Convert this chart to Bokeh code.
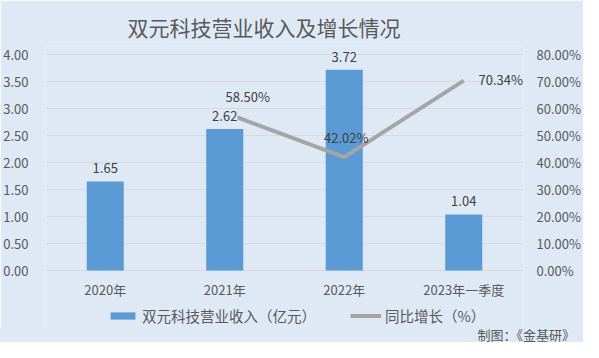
from bokeh.plotting import figure
from bokeh.layouts import column
from bokeh.models import (ColumnDataSource, Range1d, FactorRange, LinearAxis, FixedTicker,
                          NumeralTickFormatter, LabelSet, Legend, LegendItem, Title, Div)
from bokeh.core.properties import value
from bokeh.embed import file_html
from bokeh.resources import INLINE

categories = ["2020年", "2021年", "2022年", "2023年一季度"]
revenue = [1.65, 2.62, 3.72, 1.04]
growth_cats = ["2021年", "2022年", "2023年一季度"]
growth = [0.5850, 0.4202, 0.7034]
left_ticks = [0, 0.5, 1.0, 1.5, 2.0, 2.5, 3.0, 3.5, 4.0]
right_ticks = [0, 0.1, 0.2, 0.3, 0.4, 0.5, 0.6, 0.7, 0.8]
title_text = "双元科技营业收入及增长情况"
bar_name = "双元科技营业收入（亿元）"
line_name = "同比增长（%）"
credit = "制图：《金基研》"

BG = "#DEE9F5"
FONT = "Noto Sans CJK SC"
AX = "#595959"
LBL = "#404040"
BAR = "#5B9BD5"
LINE = "#A5A5A5"

# frame extends below zero to host the legend area
p = figure(width=583, height=328, x_range=FactorRange(*categories, range_padding=0),
           y_range=Range1d(-1.074, 4.15), output_backend="svg", toolbar_location=None,
           min_border_left=45, min_border_right=53, min_border_top=46, min_border_bottom=0,
           background_fill_color=BG, border_fill_color=BG, outline_line_color=None)
p.extra_y_ranges = {"pct": Range1d(-0.2148, 0.83)}

p.title = Title(text=title_text, align="left", offset=82, standoff=9,
                text_font=FONT, text_font_size="21px", text_font_style="normal", text_color=AX)

src = ColumnDataSource(dict(cat=categories, rev=revenue, lab=[f"{v:.2f}" for v in revenue]))
bars = p.vbar(x="cat", top="rev", bottom=0, width=0.31, source=src, fill_color=BAR, line_color=None)

lsrc = ColumnDataSource(dict(cat=growth_cats, g=growth))
line = p.line(x="cat", y="g", source=lsrc, y_range_name="pct", line_color=LINE, line_width=4)

# axes
p.xaxis.fixed_location = 0
p.xaxis.axis_line_color = None
p.xaxis.major_tick_line_color = None
p.xaxis.minor_tick_line_color = None
p.xaxis.major_label_text_font = FONT
p.xaxis.major_label_text_font_size = "13px"
p.xaxis.major_label_text_color = AX
p.xaxis.major_label_standoff = 3

p.yaxis.ticker = FixedTicker(ticks=left_ticks)
p.yaxis.formatter = NumeralTickFormatter(format="0.00")
p.yaxis.axis_line_color = None
p.yaxis.major_tick_line_color = None
p.yaxis.minor_tick_line_color = None
p.yaxis.major_label_text_font = FONT
p.yaxis.major_label_text_font_size = "13px"
p.yaxis.major_label_text_color = AX
p.yaxis.major_label_standoff = 11

ry = LinearAxis(y_range_name="pct", ticker=FixedTicker(ticks=right_ticks),
                formatter=NumeralTickFormatter(format="0.00%"),
                axis_line_color=None, major_tick_line_color=None, minor_tick_line_color=None,
                major_label_text_font=FONT, major_label_text_font_size="13px",
                major_label_text_color=AX, major_label_standoff=7)
p.add_layout(ry, "right")

p.xgrid.grid_line_color = None
p.ygrid.ticker = FixedTicker(ticks=left_ticks)
p.ygrid.grid_line_color = "#D9D9D9"
p.ygrid.grid_line_width = 1

# bar data labels
p.add_layout(LabelSet(x="cat", y="rev", text="lab", source=src, y_offset=13,
                      text_align="center", text_baseline="middle", text_font=value(FONT),
                      text_font_size="13px", text_color=LBL,
                      background_fill_color=BG))

# line data labels
offsets = [(23, 16), (2, 20), (37, 1)]
for c, g, (dx, dy) in zip(growth_cats, growth, offsets):
    one = ColumnDataSource(dict(cat=[c], g=[g], t=[f"{g*100:.2f}%"]))
    p.add_layout(LabelSet(x="cat", y="g", text="t", source=one, y_range_name="pct",
                          x_offset=dx, y_offset=dy,
                          text_align="center", text_baseline="middle", text_font=value(FONT),
                          text_font_size="13px", text_color=LBL))

legend = Legend(items=[LegendItem(label=bar_name, renderers=[bars]),
                       LegendItem(label=line_name, renderers=[line])],
                location=(62, 2), orientation="horizontal", padding=0, margin=0,
                spacing=34, label_standoff=4, glyph_width=31, glyph_height=9,
                label_text_font=FONT, label_text_font_size="14.5px", label_text_color=AX,
                background_fill_alpha=0, border_line_color=None)
p.add_layout(legend, "center")

credit_div = Div(text=(f'<div style="width:575px;text-align:right;font-family:\'{FONT}\';'
                       f'font-size:13px;line-height:14px;color:{AX};">{credit}</div>'),
                 width=583, height=14, margin=(0, 0, 0, 0),
                 styles={"background-color": BG})

layout = column(p, credit_div, spacing=0)
open("out.html", "w").write(file_html(layout, INLINE))
